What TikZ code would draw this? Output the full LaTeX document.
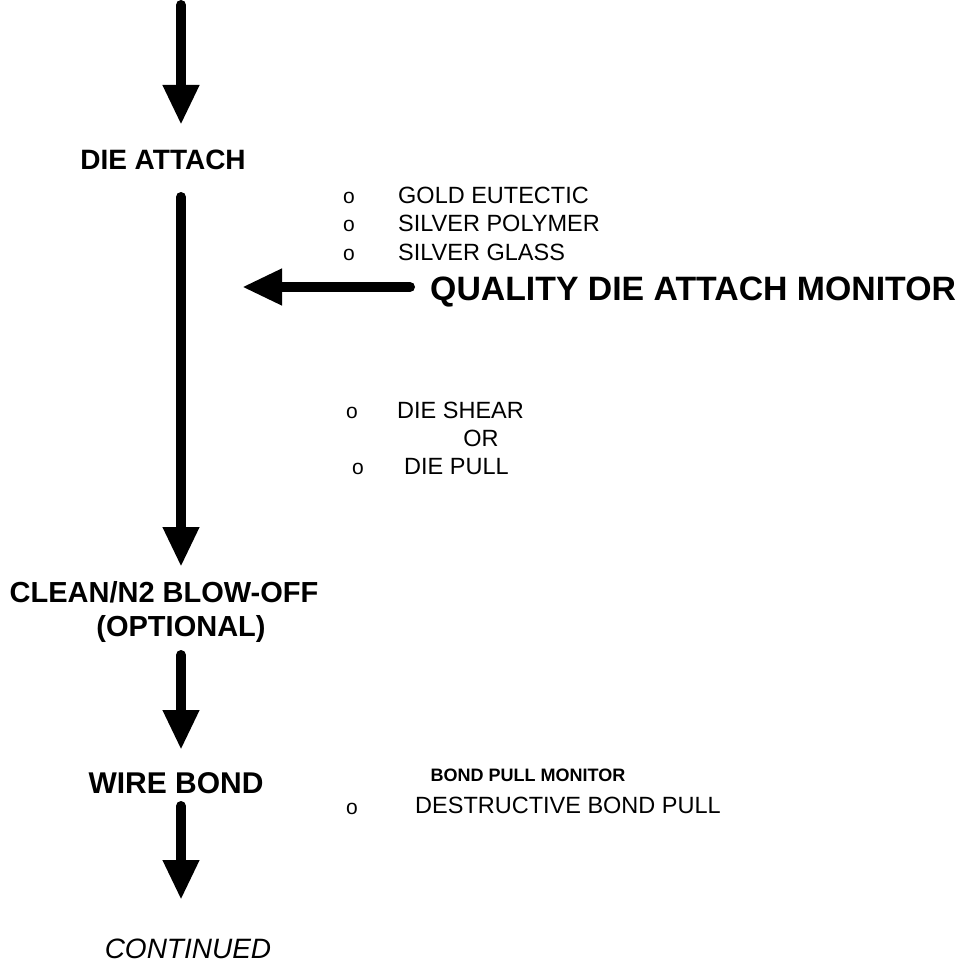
\documentclass[tikz,border=0pt]{standalone}
\usepackage{fontspec}
\setmainfont{Liberation Sans}
\usetikzlibrary{arrows.meta}
\begin{document}
\begin{tikzpicture}[x=1pt,y=-1pt,
  bigarrow/.style={line width=10pt, line cap=round, -{Triangle[width=34pt,length=40pt]}},
  heading/.style={font=\fontsize{28}{32}\selectfont\bfseries, anchor=base, inner sep=0pt},
  item/.style={font=\fontsize{23.5}{27}\selectfont, anchor=base west, inner sep=0pt},
  bul/.style={font=\fontsize{21}{24}\selectfont, anchor=base, inner sep=0pt}]
\useasboundingbox (0,0) rectangle (963,963);

% headings
\node[heading] (dieattach) at (163,169) {DIE ATTACH};
\node[heading, font=\fontsize{33.8}{38}\selectfont\bfseries, anchor=base west] (quality) at (430,300) {QUALITY DIE ATTACH MONITOR};
\node[heading, font=\fontsize{29}{33}\selectfont\bfseries] (clean) at (164,602) {CLEAN/N2 BLOW-OFF};
\node[heading, font=\fontsize{29}{33}\selectfont\bfseries] (optional) at (181,636) {(OPTIONAL)};
\node[heading, font=\fontsize{30}{34}\selectfont\bfseries] (wirebond) at (176,793) {WIRE BOND};
\node[heading, font=\fontsize{28}{32}\selectfont\itshape] (continued) at (188,958) {CONTINUED};

% die attach materials
\node[bul] (b1) at (349,203) {o};
\node[item] (gold) at (398,203) {GOLD EUTECTIC};
\node[bul] (b2) at (349,231) {o};
\node[item] (polymer) at (398,231) {SILVER POLYMER};
\node[bul] (b3) at (349,260) {o};
\node[item] (glass) at (398,260) {SILVER GLASS};

% monitor options
\node[bul] (b4) at (352,418) {o};
\node[item] (shear) at (397,418) {DIE SHEAR};
\node[item, anchor=base] (or) at (481,446) {OR};
\node[bul] (b5) at (358,474) {o};
\node[item] (pull) at (404,474) {DIE PULL};

% bond pull monitor
\node[font=\fontsize{18}{22}\selectfont\bfseries, anchor=base, inner sep=0pt] (bpm) at (528,781) {BOND PULL MONITOR};
\node[bul] (b6) at (352,814) {o};
\node[item] (destr) at (415,813) {DESTRUCTIVE BOND PULL};

% arrow end points
\coordinate (a1s) at (181,5);
\coordinate (a1e) at (181,125);
\coordinate (a2s) at (181,197);
\coordinate (a2e) at (181,567);
\coordinate (hs) at (410,287);
\coordinate (he) at (242,287);
\coordinate (a3s) at (181,655);
\coordinate (a3e) at (181,750);
\coordinate (a4s) at (181,806);
\coordinate (a4e) at (181,900);

\draw[bigarrow] (a1s) -- (a1e);
\draw[bigarrow] (a2s) -- (a2e);
\draw[bigarrow] (hs) -- (he);
\draw[bigarrow] (a3s) -- (a3e);
\draw[bigarrow] (a4s) -- (a4e);
\end{tikzpicture}
\end{document}
